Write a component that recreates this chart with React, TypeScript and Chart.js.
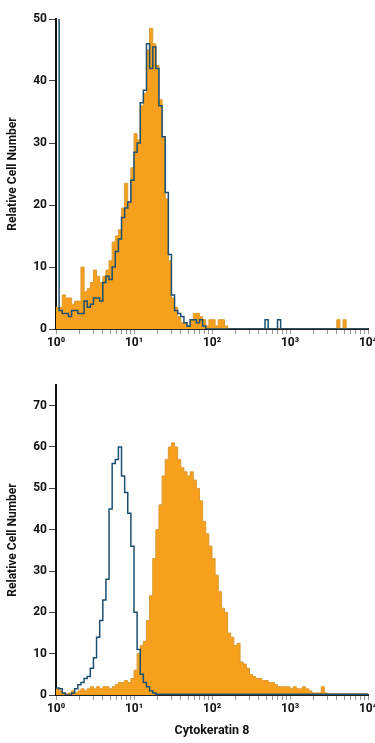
import { useEffect, useRef } from 'react';
import { Chart, registerables } from 'chart.js';

Chart.register(...registerables);

// Histogram channels: 25 bins per decade, spanning 10^0 .. 10^4 (100 bins)
const BINS_PER_DECADE = 25;

// Upper panel (y 0..50)
const topIsotype = [
  55, 3, 2.5, 2.5, 2, 3, 3, 2.5, 2.5, 4.5,
  3.5, 4, 5, 5, 4.5, 7.5, 8.5, 8, 10, 12.5,
  14.5, 18, 19.5, 20.5, 24, 28.5, 30, 36.5, 38.5, 46,
  42, 45.5, 42, 36, 31, 22, 12, 5.5, 3, 2.5,
  2, 1, 0.5, 1.5, 1.5, 1, 1.5, 0.5, 0, 0,
  0, 0, 0, 0, 0, 0, 0, 0, 0, 0,
  0, 0, 0, 0, 0, 0, 0, 1.5, 0, 0,
  0, 1.5, 0, 0, 0, 0, 0, 0, 0, 0,
  0, 0, 0, 0, 0, 0, 0, 0, 0, 0,
  0, 0, 0, 0, 0, 0, 0, 0, 0, 0,
];
const topSample = [
  3.5, 3.5, 5.5, 5, 5, 4, 4.5, 4.5, 10, 6,
  6.5, 7.5, 9.5, 8.5, 7.5, 8.5, 9.5, 11, 14, 15,
  16, 19.5, 23.5, 20.5, 26, 31.5, 30.5, 36, 38, 45,
  48.5, 46, 42.5, 37, 31, 21, 11, 5, 3.5, 2,
  1, 1, 0.5, 1.5, 2.5, 2.5, 2, 1.5, 0.5, 1.5,
  1.5, 0.5, 1.5, 1.5, 0.5, 0, 0, 0, 0, 0,
  0, 0, 0, 0, 0, 0, 0, 0, 0, 0,
  0, 0, 0, 0, 0, 0, 0, 0, 0, 0,
  0, 0, 0, 0, 0, 0, 0, 0, 0, 0,
  1.5, 0, 1.5, 0, 0, 0, 0, 0, 0, 0,
];

// Lower panel (y 0..70)
const bottomIsotype = [
  1.7, 1.5, 0.5, 0, 0, 0.5, 1.5, 2.5, 3, 4,
  4.5, 6.5, 9, 14, 18, 23, 28, 45, 56, 57,
  60, 53, 49, 44, 36, 20, 11, 5, 3, 2,
  1, 0.5, 0.2, 0.2, 0.2, 0.2, 0.2, 0.2, 0.2, 0.2,
  0.2, 0.2, 0.2, 0.2, 0.2, 0.2, 0.2, 0.2, 0.2, 0.2,
  0.2, 0.2, 0.2, 0.2, 0.2, 0.2, 0.2, 0.2, 0.2, 0.2,
  0.2, 0.2, 0.2, 0.2, 0.2, 0.2, 0.2, 0.2, 0.2, 0.2,
  0.2, 0.2, 0.2, 0.2, 0.2, 0.2, 0.2, 0.2, 0.2, 0.2,
  0.2, 0.2, 0.2, 0.2, 0.2, 0.2, 0.2, 0.2, 0.2, 0.2,
  0.2, 0.2, 0.2, 0.2, 0.2, 0.2, 0.2, 0.2, 0.2, 0.2,
];
const bottomSample = [
  1.5, 1, 0.5, 0.3, 0.5, 1, 0.5, 1, 1.5, 1,
  1.5, 2, 1.5, 2, 1.5, 2, 2, 1.5, 2, 2.5,
  3, 3, 3.5, 3, 4, 6, 10, 12, 13, 18,
  24, 33, 40, 46, 53, 57, 60, 61, 60, 57,
  55, 54, 53, 54, 52, 50, 47, 42, 39, 36,
  33, 29, 25, 21, 20, 15, 14, 12, 12.5, 8,
  7.5, 6.5, 5, 4.5, 4, 4, 3.5, 3.5, 3, 3,
  2.5, 2, 2, 2, 2, 1.5, 2, 1.5, 1.5, 2,
  1.5, 1, 0.5, 0.5, 0.5, 2, 0.5, 0.3, 0.3, 0.3,
  0.3, 0.3, 0.3, 0.3, 0.3, 0.3, 0.3, 0.3, 0.3, 0.3,
];

const X_DECADES = [1, 10, 100, 1000, 10000];
const X_TICK_LABELS = ['10\u2070', '10\u00b9', '10\u00b2', '10\u00b3', '10\u2074'];
const X_MINOR_MULTIPLIERS = [2, 3, 4, 5, 6, 7, 8, 9];
const Y_TITLE = 'Relative Cell Number';
const X_TITLE = 'Cytokeratin 8';

const FONT = "Roboto, 'Liberation Sans', sans-serif";
const ORANGE = '#f6a01e';
const ORANGE_EDGE = '#dc9a30';
const BLUE = '#1d5070';

const X_TICKS: number[] = [];
X_DECADES.forEach((d, i) => {
  X_TICKS.push(d);
  if (i < X_DECADES.length - 1) X_MINOR_MULTIPLIERS.forEach((m) => X_TICKS.push(d * m));
});

function toPoints(values: number[]) {
  const pts = values.map((v, i) => ({ x: Math.pow(10, i / BINS_PER_DECADE), y: v }));
  pts.push({ x: X_DECADES[X_DECADES.length - 1], y: values[values.length - 1] });
  return pts;
}

function makeConfig(sample: number[], isotype: number[], yMax: number, padTop: number, xHeight: number, showXTitle: boolean): any {
  return {
    type: 'line',
    data: {
      datasets: [
        {
          label: 'Isotype',
          data: toPoints(isotype),
          stepped: 'before',
          borderColor: BLUE,
          borderWidth: 1.5,
          pointRadius: 0,
          fill: false,
          order: 0,
        },
        {
          label: 'Sample',
          data: toPoints(sample),
          stepped: 'before',
          borderColor: ORANGE_EDGE,
          backgroundColor: ORANGE,
          borderWidth: 1,
          pointRadius: 0,
          fill: 'origin',
          order: 1,
        },
      ],
    },
    options: {
      responsive: false,
      animation: false,
      devicePixelRatio: 1,
      layout: { padding: { top: padTop, right: 0, bottom: 0, left: 0 } },
      plugins: { legend: { display: false }, tooltip: { enabled: false } },
      scales: {
        x: {
          type: 'logarithmic',
          min: 1,
          max: 10000,
          afterBuildTicks: (s: any) => {
            s.ticks = X_TICKS.map((v) => ({ value: v }));
          },
          afterFit: (s: any) => {
            s.height = xHeight;
            s.paddingRight = 7;
            s.paddingLeft = 0;
          },
          ticks: {
            autoSkip: false,
            maxRotation: 0,
            minRotation: 0,
            padding: 2,
            color: '#111',
            font: { family: FONT, size: 12, weight: 'bold' },
            callback: (v: any) => {
              const idx = X_DECADES.indexOf(Number(v));
              return idx >= 0 ? X_TICK_LABELS[idx] : '';
            },
          },
          grid: { drawOnChartArea: false, drawTicks: true, tickLength: 5, color: '#999', lineWidth: 1 },
          border: { display: true, color: '#222', width: 2 },
          title: {
            display: showXTitle,
            text: X_TITLE,
            color: '#111',
            font: { family: FONT, size: 12.5, weight: 'bold' },
            padding: { top: 0, bottom: 5 },
          },
        },
        y: {
          type: 'linear',
          min: 0,
          max: yMax,
          afterBuildTicks: (s: any) => {
            s.ticks = s.ticks.filter((t: any) => t.value % 10 === 0);
          },
          afterFit: (s: any) => {
            s.width = 56;
          },
          ticks: {
            stepSize: 10,
            padding: 2,
            color: '#111',
            font: { family: FONT, size: 12, weight: 'bold' },
          },
          grid: { drawOnChartArea: false, drawTicks: true, tickLength: 7, color: '#444', lineWidth: 1 },
          border: { display: true, color: '#111', width: 2 },
          title: {
            display: true,
            text: Y_TITLE,
            color: '#111',
            font: { family: FONT, size: 12, weight: 'bold' },
            padding: { top: 6, bottom: 0 },
          },
        },
      },
    },
  };
}

function Panel(props: { top: number; height: number; config: any }) {
  const ref = useRef<HTMLCanvasElement | null>(null);
  useEffect(() => {
    if (!ref.current) return;
    const chart = new Chart(ref.current, props.config);
    return () => chart.destroy();
  }, []);
  return (
    <canvas
      ref={ref}
      width={375}
      height={props.height}
      style={{ position: 'absolute', left: 0, top: props.top, width: 375, height: props.height }}
    />
  );
}

export default function App() {
  return (
    <div style={{ position: 'absolute', left: 0, top: 0, width: 375, height: 743, background: '#fff', overflow: 'hidden' }}>
      <Panel top={0} height={360} config={makeConfig(topSample, topIsotype, 50, 19, 31, false)} />
      <Panel top={370} height={373} config={makeConfig(bottomSample, bottomIsotype, 75, 15, 48, true)} />
    </div>
  );
}
